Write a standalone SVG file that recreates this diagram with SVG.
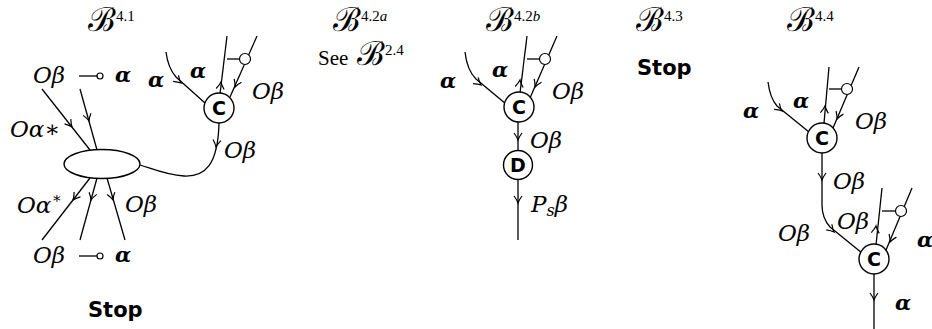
<svg xmlns="http://www.w3.org/2000/svg" xmlns:xlink="http://www.w3.org/1999/xlink" width="932" height="329" viewBox="0 0 932 329">
<style>
.ln{fill:none;stroke:#000;stroke-width:1.3}
.ah{fill:none;stroke:#000;stroke-width:1.2}
.nd{fill:#fff;stroke:#000;stroke-width:1.4}
.sm{fill:#fff;stroke:#000;stroke-width:1.2}
.m{font-family:"DejaVu Serif",serif;font-style:italic;font-size:23px;fill:#000}
.cal{font-family:"DejaVu Serif",serif;font-style:normal;font-size:33px;fill:#000}
.b{font-family:"DejaVu Serif",serif;font-style:italic;font-weight:bold;font-size:21px;fill:#000}
.r{font-family:"Liberation Serif",serif;font-size:21px;fill:#000}
.sup{font-family:"Liberation Serif",serif;font-size:15px;font-style:normal;fill:#000}
.ss{font-family:"DejaVu Sans",sans-serif;font-weight:bold;font-size:21px;fill:#000}
.nl{font-family:"DejaVu Sans",sans-serif;font-weight:bold;font-size:19px;fill:#000;text-anchor:middle}
</style>
<defs>
<path id="ah" class="ah" d="M-7,-4 Q-3,-1 0,0 Q-3,1 -7,4"/>
<circle id="pin" class="sm" r="5.5"/>
</defs>

<g id="titles">
<text class="cal" x="88" y="31">ℬ<tspan class="sup" dx="0" dy="-10">4.1</tspan></text>
<text class="cal" x="333" y="31">ℬ<tspan class="sup" dx="0" dy="-10">4.2<tspan font-style="italic">a</tspan></tspan></text>
<text class="r" x="318" y="65">See</text>
<text class="cal" x="357" y="65">ℬ<tspan class="sup" dx="0" dy="-10">2.4</tspan></text>
<text class="cal" x="486" y="31">ℬ<tspan class="sup" dx="0" dy="-10">4.2<tspan font-style="italic">b</tspan></tspan></text>
<text class="cal" x="636" y="31">ℬ<tspan class="sup" dx="0" dy="-10">4.3</tspan></text>
<text class="ss" x="637" y="75">Stop</text>
<text class="cal" x="787" y="31">ℬ<tspan class="sup" dx="0" dy="-10">4.4</tspan></text>
</g>

<g id="connectors">
<!-- diagram 4.1 -->
<path class="ln" d="M166,52 Q168,68 176,77 L205,103"/>
<use xlink:href="#ah" transform="translate(181,83) rotate(42)"/>
<path class="ln" d="M227,36 L220,94"/>
<use xlink:href="#ah" transform="translate(221,82) rotate(-83)"/>
<path class="ln" d="M257,36 L230,97"/>
<use xlink:href="#ah" transform="translate(235,87) rotate(114)"/>
<path class="ln" d="M227,59 L240,59"/>
<path class="ln" d="M219,123 C218,165 205,177 184,176 C166,175 153,169 140,165"/>
<use xlink:href="#ah" transform="translate(216,147) rotate(98)"/>
<path class="ln" d="M42,89 L90,150"/>
<use xlink:href="#ah" transform="translate(72,127) rotate(52)"/>
<path class="ln" d="M80,89 L97,150"/>
<use xlink:href="#ah" transform="translate(89,121) rotate(74)"/>
<path class="ln" d="M90,178 L42,240"/>
<use xlink:href="#ah" transform="translate(73,200) rotate(128)"/>
<path class="ln" d="M97,178 L80,240"/>
<use xlink:href="#ah" transform="translate(91,200) rotate(106)"/>
<path class="ln" d="M107,178 L125,240"/>
<use xlink:href="#ah" transform="translate(113,200) rotate(73)"/>
<path class="ln" d="M79,76 L97,76"/>
<path class="ln" d="M79,256 L97,256"/>
<!-- diagram 4.2b -->
<path class="ln" d="M465,52 Q467,70 476,79 L506,104"/>
<use xlink:href="#ah" transform="translate(481,85) rotate(40)"/>
<path class="ln" d="M527,36 L520,93"/>
<use xlink:href="#ah" transform="translate(520,80) rotate(-83)"/>
<path class="ln" d="M557,36 L530,98"/>
<use xlink:href="#ah" transform="translate(535,87) rotate(114)"/>
<path class="ln" d="M527,59 L540,59"/>
<path class="ln" d="M518,122 L518,151"/>
<use xlink:href="#ah" transform="translate(518,140) rotate(90)"/>
<path class="ln" d="M518,179 L518,240"/>
<use xlink:href="#ah" transform="translate(518,203) rotate(90)"/>
<!-- diagram 4.4 -->
<path class="ln" d="M768,82 Q770,98 777,106 L809,132"/>
<use xlink:href="#ah" transform="translate(782,111) rotate(41)"/>
<path class="ln" d="M829,67 L824,123"/>
<use xlink:href="#ah" transform="translate(825,106) rotate(-85)"/>
<path class="ln" d="M859,67 L833,128"/>
<use xlink:href="#ah" transform="translate(837,119) rotate(113)"/>
<path class="ln" d="M829,89 L842,89"/>
<path class="ln" d="M822,153 L822,205 Q822,218 830,227 L862,253"/>
<use xlink:href="#ah" transform="translate(822,180) rotate(90)"/>
<use xlink:href="#ah" transform="translate(834,232) rotate(45)"/>
<path class="ln" d="M882,188 L876,245"/>
<use xlink:href="#ah" transform="translate(876,226) rotate(-84)"/>
<path class="ln" d="M912,188 L886,250"/>
<use xlink:href="#ah" transform="translate(890,242) rotate(113)"/>
<path class="ln" d="M882,211 L896,211"/>
<path class="ln" d="M874,274 L874,329"/>
<use xlink:href="#ah" transform="translate(874,300) rotate(90)"/>
</g>

<g id="ellipse1"><ellipse class="nd" cx="102" cy="164" rx="38" ry="14.5"/></g>
<g id="C1"><circle class="nd" cx="219" cy="108" r="15"/><text class="nl" x="219" y="115">C</text></g>
<g id="pin1"><use xlink:href="#pin" x="245" y="59"/></g>
<g id="pinTop1"><circle class="sm" cx="100" cy="76" r="3"/></g>
<g id="pinBot1"><circle class="sm" cx="100" cy="256" r="3"/></g>
<g id="labels1">
<text class="m" x="33" y="83">Oβ</text>
<text class="b" x="115" y="82">α</text>
<text class="m" x="10" y="137">Oα∗</text>
<text class="b" x="148" y="87">α</text>
<text class="b" x="190" y="78">α</text>
<text class="m" x="252" y="99">Oβ</text>
<text class="m" x="224" y="158">Oβ</text>
<text class="m" x="17" y="213">Oα<tspan font-size="15" font-style="normal" dy="-10">∗</tspan></text>
<text class="m" x="125" y="212">Oβ</text>
<text class="m" x="33" y="263">Oβ</text>
<text class="b" x="115" y="262">α</text>
<text class="ss" x="88" y="317">Stop</text>
</g>

<g id="C2"><circle class="nd" cx="519" cy="107" r="15"/><text class="nl" x="519" y="114">C</text></g>
<g id="D2"><circle class="nd" cx="518" cy="165" r="14.5"/><text class="nl" x="518" y="172">D</text></g>
<g id="pin2"><use xlink:href="#pin" x="545" y="59"/></g>
<g id="labels2">
<text class="b" x="440" y="88">α</text>
<text class="b" x="492" y="77">α</text>
<text class="m" x="552" y="99">Oβ</text>
<text class="m" x="530" y="148">Oβ</text>
<text class="m" x="531" y="212">P<tspan font-size="16" dy="4">s</tspan><tspan dy="-4">β</tspan></text>
</g>

<g id="C3"><circle class="nd" cx="822" cy="138" r="15"/><text class="nl" x="822" y="145">C</text></g>
<g id="C4"><circle class="nd" cx="874" cy="259" r="15"/><text class="nl" x="874" y="266">C</text></g>
<g id="pin3"><use xlink:href="#pin" x="847" y="89"/></g>
<g id="pin4"><use xlink:href="#pin" x="901" y="211"/></g>
<g id="labels3">
<text class="b" x="743" y="118">α</text>
<text class="b" x="793" y="108">α</text>
<text class="m" x="855" y="129">Oβ</text>
<text class="m" x="833" y="189">Oβ</text>
<text class="m" x="778" y="241">Oβ</text>
<text class="m" x="837" y="229">Oβ</text>
<text class="b" x="917" y="247">α</text>
<text class="b" x="895" y="310">α</text>
</g>
</svg>
